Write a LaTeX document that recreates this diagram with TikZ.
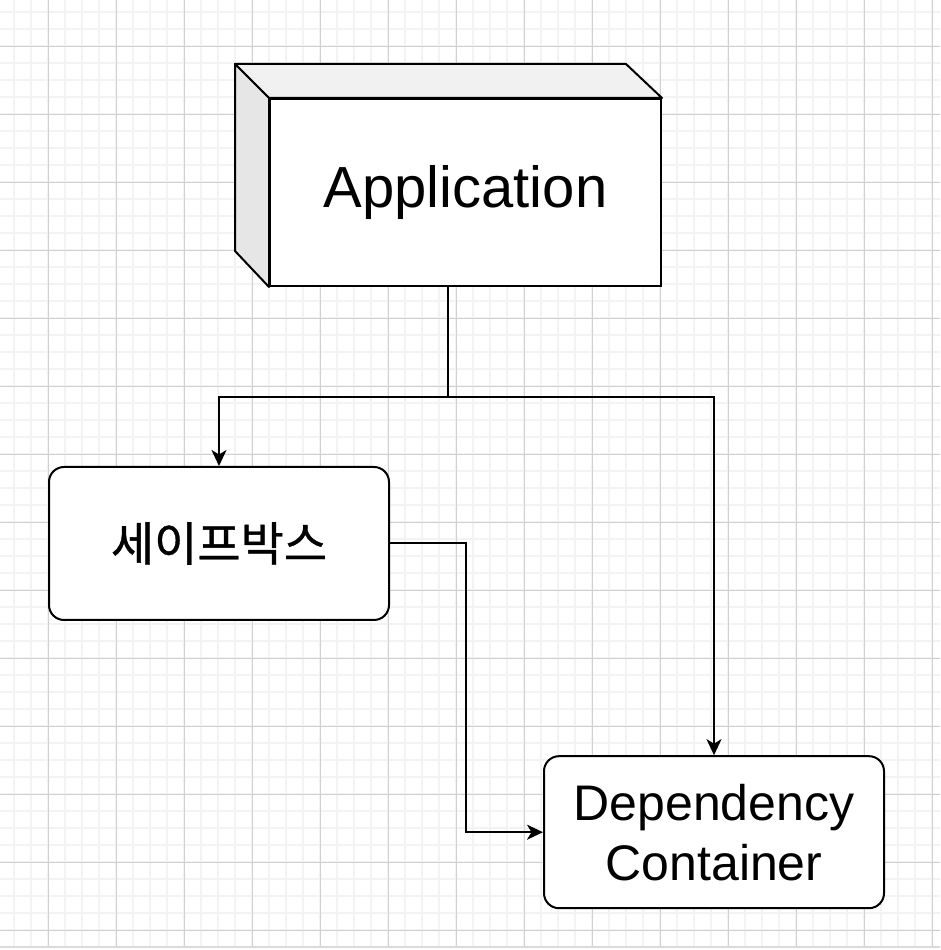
\documentclass[tikz,border=0pt]{standalone}
\usepackage{fontspec}
\setmainfont{Liberation Sans}
\newfontfamily\krfont[FakeBold=0.8]{Noto Sans CJK KR}
\usepackage{tikz}
\usetikzlibrary{arrows.meta,calc,positioning}
\usepackage{xcolor}
\definecolor{gridMinor}{HTML}{F3F3F3}
\definecolor{gridMajor}{HTML}{D0D0D0}
\definecolor{cubeTop}{HTML}{F1F1F1}
\definecolor{cubeSide}{HTML}{E6E6E6}

\begin{document}
\begin{tikzpicture}[
  x=1pt, y=1pt,
  front/.style={draw, fill=white, line width=2pt, minimum width=391pt, minimum height=187pt, font=\fontsize{58}{70}\selectfont},
  box/.style={draw, fill=white, line width=2pt, rounded corners=15pt, minimum width=340pt, minimum height=152pt, align=center},
  face/.style={draw, line width=2pt, line join=round},
  arr/.style={-{Stealth[length=16pt, width=15pt, inset=4.5pt]}, line width=2pt},
  node distance=179pt and 153pt
]
% Background and grid
\useasboundingbox (0,0) rectangle (940,950);
\fill[white] (0,0) rectangle (940,950);
\begin{scope}[shift={(14,3)}]
  \draw[gridMinor, line width=1.6pt, step=17pt] (-14,1) grid (926,947);
\end{scope}
\begin{scope}[shift={(48,20)}]
  \draw[gridMajor, line width=0.9pt, step=68pt] (-48,-16) grid (892,930);
\end{scope}
\draw[gridMajor!80, line width=2pt] (0,3) -- (940,3);

% Application cube
\node[front] (app) at (465.5,757.5) {Application};
\draw[face, fill=cubeTop] (app.north west) -- ++(-34,34) -- ++(391,0) -- (app.north east) -- cycle;
\draw[face, fill=cubeSide] (app.north west) -- ++(-34,34) -- ++(0,-187) -- (app.south west) -- cycle;

% Boxes
\node[box, below=179pt of app, xshift=-246.5pt, minimum height=153pt, font=\krfont\fontsize{47}{56}\selectfont] (safebox) {세이프박스};
\node[box, right=153pt of safebox, yshift=-288.7pt, font=\fontsize{50}{60}\selectfont] (container) {Dependency\\Container};

% Arrows
\coordinate (split) at (448,553);
\draw[line width=2pt] (split |- app.south) -- (split);
\draw[arr] (split) -| (safebox.north);
\draw[arr] (split) -| (container.north);
\draw[arr] (safebox.east) -- ++(76,0) |- (container.west);
\end{tikzpicture}
\end{document}
